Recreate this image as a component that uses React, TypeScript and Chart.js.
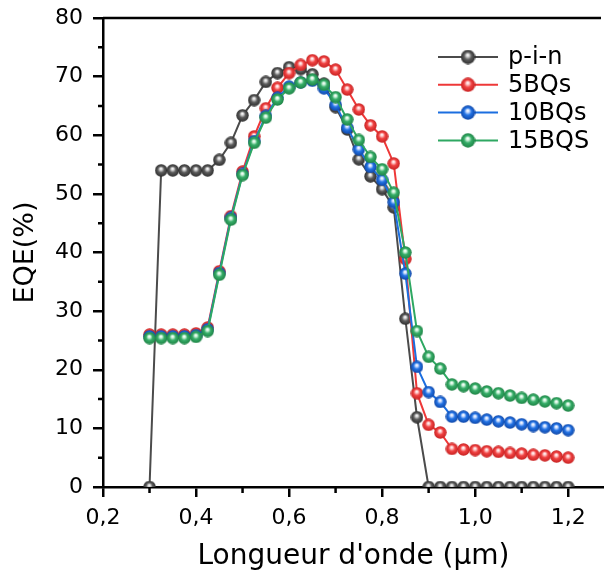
import React, { useEffect, useRef } from "react";
import { Chart, registerables } from "chart.js";

Chart.register(...registerables);

// ---- data ----
const wavelengths = [
  0.3, 0.325, 0.35, 0.375, 0.4, 0.425, 0.45, 0.475, 0.5, 0.525, 0.55, 0.575,
  0.6, 0.625, 0.65, 0.675, 0.7, 0.725, 0.75, 0.775, 0.8, 0.825, 0.85, 0.875,
  0.9, 0.925, 0.95, 0.975, 1.0, 1.025, 1.05, 1.075, 1.1, 1.125, 1.15, 1.175, 1.2,
];
const pinEQE = [
  0, 54, 54, 54, 54, 54, 55.8, 58.7, 63.4, 66.0, 69.1, 70.6, 71.6, 71.3, 70.4,
  68.8, 64.8, 61.0, 55.9, 53.0, 50.8, 47.7, 28.7, 11.9,
  0, 0, 0, 0, 0, 0, 0, 0, 0, 0, 0, 0, 0,
];
const bq5EQE = [
  26.0, 26.0, 26.0, 26.0, 26.2, 27.2, 36.8, 46.2, 53.8, 59.8, 64.6, 68.1, 70.6,
  72.0, 72.8, 72.6, 71.2, 67.8, 64.4, 61.7, 59.8, 55.2, 38.9, 16.0,
  10.6, 9.3, 6.5, 6.4, 6.3, 6.1, 6.0, 5.8, 5.7, 5.5, 5.4, 5.2, 5.0,
];
const bq10EQE = [
  25.7, 25.7, 25.7, 25.7, 25.9, 26.9, 36.5, 45.9, 53.4, 59.0, 63.3, 66.4, 68.3,
  69.0, 69.3, 68.0, 65.2, 61.3, 57.6, 54.6, 52.4, 48.6, 36.4, 20.5,
  16.2, 14.5, 12.0, 12.0, 11.8, 11.5, 11.2, 11.0, 10.7, 10.4, 10.2, 10.0, 9.7,
];
const bq15EQE = [
  25.4, 25.4, 25.4, 25.4, 25.6, 26.6, 36.2, 45.6, 53.2, 58.7, 63.0, 66.1, 68.0,
  69.0, 69.5, 68.6, 66.5, 62.7, 59.2, 56.3, 54.2, 50.2, 40.0, 26.6,
  22.2, 20.2, 17.5, 17.2, 16.8, 16.3, 16.0, 15.6, 15.2, 14.9, 14.6, 14.3, 13.9,
];
const seriesLabels = ["p-i-n", "5BQs", "10BQs", "15BQS"];
const xMinorTicks = [0.3, 0.5, 0.7, 0.9, 1.1];
const yMinorTicks = [5, 15, 25, 35, 45, 55, 65, 75];

const seriesStyles = [
  { line: "#4b4b4b", base: "#5c5c5c", dark: "#2e2e2e", light: "#d8d8d8" },
  { line: "#ee3838", base: "#f04242", dark: "#c82222", light: "#ffd0d0" },
  { line: "#1b6ee0", base: "#2272e4", dark: "#1048a8", light: "#cfe0ff" },
  { line: "#2ea862", base: "#36ad68", dark: "#1f8446", light: "#d4f5e0" },
];

function makeBall(st: any, size: number) {
  const c = document.createElement("canvas");
  c.width = size;
  c.height = size;
  const ctx = c.getContext("2d")!;
  const cx = size / 2;
  const cy = size / 2;
  const r = size / 2 - 0.3;
  const g = ctx.createRadialGradient(cx - 0.3, cy - size * 0.14, 0.2, cx, cy, r);
  g.addColorStop(0, "#ffffff");
  g.addColorStop(0.18, st.light);
  g.addColorStop(0.5, st.base);
  g.addColorStop(1, st.dark);
  ctx.fillStyle = g;
  ctx.beginPath();
  ctx.arc(cx, cy, r, 0, Math.PI * 2);
  ctx.fill();
  return c;
}

const FONT = '"DejaVu Sans", "Liberation Sans", Arial, sans-serif';

function zeroPadding(s: any) {
  s.paddingTop = 0;
  s.paddingBottom = 0;
  s.paddingLeft = 0;
  s.paddingRight = 0;
}

export default function App() {
  const ref = useRef<HTMLCanvasElement | null>(null);

  useEffect(() => {
    if (!ref.current) return;
    const balls = seriesStyles.map((s) => makeBall(s, 13));
    const legendBalls = seriesStyles.map((s) => makeBall(s, 15));
    const series = [pinEQE, bq5EQE, bq10EQE, bq15EQE];

    const frameAndMinor = {
      id: "frameAndMinor",
      afterDatasetsDraw(chart: any) {
        const { ctx, chartArea } = chart;
        const x = chart.scales.x;
        const y = chart.scales.y;
        ctx.save();
        ctx.strokeStyle = "#000";
        ctx.lineWidth = 2.5;
        ctx.beginPath();
        for (const v of xMinorTicks) {
          const px = x.getPixelForValue(v);
          ctx.moveTo(px, chartArea.bottom);
          ctx.lineTo(px, chartArea.bottom + 6);
        }
        for (const v of yMinorTicks) {
          const py = y.getPixelForValue(v);
          ctx.moveTo(chartArea.left - 5, py);
          ctx.lineTo(chartArea.left, py);
        }
        ctx.moveTo(chartArea.left, chartArea.top);
        ctx.lineTo(chartArea.right - 3, chartArea.top);
        ctx.stroke();
        ctx.restore();
      },
    };

    const customLegend = {
      id: "customLegend",
      afterDraw(chart: any) {
        const { ctx, chartArea } = chart;
        ctx.save();
        ctx.font = "24px " + FONT;
        ctx.textBaseline = "middle";
        ctx.textAlign = "left";
        const x0 = chartArea.right - 166;
        chart.data.datasets.forEach((ds: any, i: number) => {
          const yy = chartArea.top + 39 + i * 27.8;
          ctx.strokeStyle = ds.borderColor;
          ctx.lineWidth = 2;
          ctx.beginPath();
          ctx.moveTo(x0, yy);
          ctx.lineTo(x0 + 60, yy);
          ctx.stroke();
          const b = legendBalls[i];
          ctx.drawImage(b, x0 + 30 - b.width / 2, yy - b.height / 2);
          ctx.fillStyle = "#000";
          ctx.fillText(ds.label, x0 + 70, yy + 1);
        });
        ctx.restore();
      },
    };

    const chart = new Chart(ref.current, {
      type: "line",
      data: {
        datasets: series.map((vals, i) => ({
          label: seriesLabels[i],
          data: wavelengths.map((w, k) => ({ x: w, y: vals[k] })),
          borderColor: seriesStyles[i].line,
          backgroundColor: seriesStyles[i].base,
          borderWidth: 2,
          pointStyle: balls[i] as any,
          pointRadius: 6.5,
          tension: 0,
          order: 4 - i,
        })),
      },
      options: {
        responsive: false,
        animation: false,
        events: [],
        layout: { autoPadding: false, padding: { top: 18, right: 0, bottom: 0, left: 0 } },
        plugins: {
          legend: { display: false },
          tooltip: { enabled: false },
        },
        scales: {
          x: {
            type: "linear",
            min: 0.2,
            max: 1.277,
            afterFit: (s: any) => {
              s.height = 92;
              zeroPadding(s);
            },
            border: { display: true, color: "#000", width: 2.5 },
            grid: {
              display: true,
              drawOnChartArea: false,
              drawTicks: true,
              tickLength: 10,
              color: "#000",
              lineWidth: 2.5,
            },
            ticks: {
              stepSize: 0.2,
              includeBounds: false,
              padding: 8,
              color: "#000",
              font: { family: FONT, size: 22 },
              callback: (v: any) => Number(v).toFixed(1).replace(".", ","),
            },
            title: {
              display: true,
              text: "Longueur d'onde (μm)",
              color: "#000",
              font: { family: FONT, size: 28 },
              padding: { top: 0, bottom: 5 },
            },
          },
          y: {
            type: "linear",
            min: 0,
            max: 80,
            afterFit: (s: any) => {
              s.width = 103;
              zeroPadding(s);
            },
            border: { display: true, color: "#000", width: 2.5 },
            grid: {
              display: true,
              drawOnChartArea: false,
              drawTicks: true,
              tickLength: 10,
              color: "#000",
              lineWidth: 2.5,
            },
            ticks: {
              stepSize: 10,
              padding: 10,
              color: "#000",
              font: { family: FONT, size: 22 },
            },
            title: {
              display: true,
              text: "EQE(%)",
              color: "#000",
              font: { family: FONT, size: 27 },
              padding: { top: 10, bottom: 0 },
            },
          },
        },
      },
      plugins: [frameAndMinor, customLegend],
    });
    return () => chart.destroy();
  }, []);

  return (
    <div style={{ position: "absolute", left: 0, top: 0, width: 604, height: 579, background: "#fff" }}>
      <canvas ref={ref} width={604} height={579} style={{ display: "block" }} />
    </div>
  );
}
